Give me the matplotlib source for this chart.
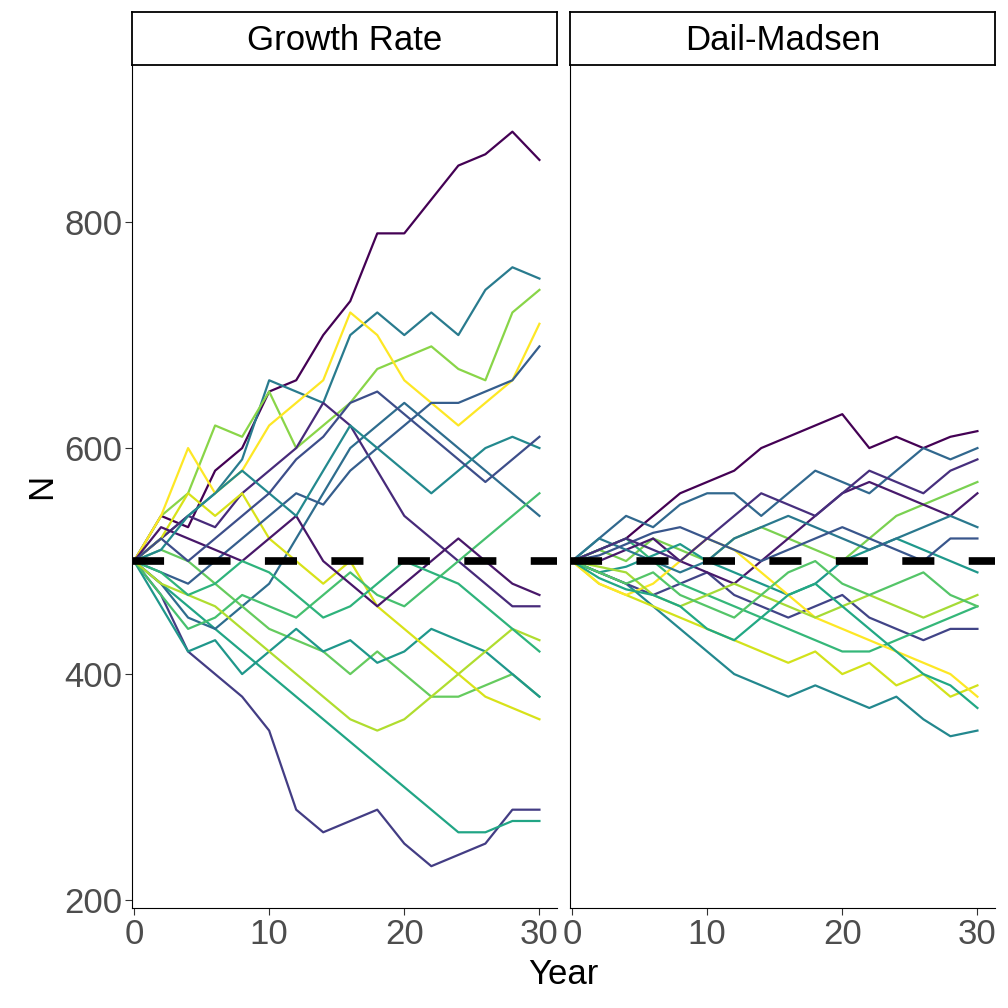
import numpy as np
import matplotlib
matplotlib.use("Agg")
import matplotlib.pyplot as plt

plt.rcParams['font.family'] = ['Liberation Sans', 'DejaVu Sans']

years = list(range(0, 31, 2))

growth_rate = [
    [500,540,530,580,600,650,660,700,730,790,790,820,850,860,880,855],
    [500,520,540,560,590,660,650,640,700,720,700,720,700,740,760,750],
    [500,540,560,620,610,650,600,620,640,670,680,690,670,660,720,740],
    [500,470,420,400,380,350,280,260,270,280,250,230,240,250,280,280],
    [500,480,460,440,420,400,380,360,340,320,300,280,260,260,270,270],
    [500,540,600,560,580,620,640,660,720,700,660,640,620,640,660,710],
    [500,480,450,440,460,480,520,560,600,620,640,620,600,580,560,540],
    [500,510,500,480,460,440,430,420,400,420,400,380,380,390,400,380],
    [500,520,540,530,560,580,600,640,620,580,540,520,500,480,460,460],
    [500,460,420,430,400,420,440,420,430,410,420,440,430,420,400,380],
    [500,520,560,540,560,520,500,480,500,460,440,420,400,380,370,360],
    [500,490,480,500,520,540,560,550,580,600,620,640,640,650,660,690],
    [500,470,440,450,470,460,450,470,490,470,460,480,500,520,540,560],
    [500,530,520,510,500,520,540,500,480,460,480,500,520,500,480,470],
    [500,510,540,560,580,560,540,580,620,600,580,560,580,600,610,600],
    [500,480,470,460,440,420,400,380,360,350,360,380,400,420,440,430],
    [500,520,500,520,540,560,590,610,640,650,630,610,590,570,590,610],
    [500,490,470,480,500,490,470,450,460,480,500,490,480,460,440,420],
]

dail_madsen = [
    [500,510,520,540,560,570,580,600,610,620,630,600,610,600,610,615],
    [500,490,480,460,440,420,400,390,380,390,380,370,380,360,345,350],
    [500,480,470,460,450,440,430,420,410,420,400,410,390,400,380,390],
    [500,520,540,530,550,560,560,540,560,580,570,560,580,600,590,600],
    [500,510,500,520,510,500,520,530,520,510,500,520,540,550,560,570],
    [500,490,480,470,480,490,470,460,450,460,470,450,440,430,440,440],
    [500,510,520,500,480,470,460,450,440,430,420,420,430,440,450,460],
    [500,500,510,520,500,490,480,500,520,540,560,570,560,550,540,560],
    [500,490,495,505,515,500,490,480,470,480,500,510,520,510,500,490],
    [500,480,470,480,500,520,510,490,470,450,440,430,420,410,400,380],
    [500,520,510,500,490,500,520,530,540,530,520,510,520,530,540,530],
    [500,495,490,470,460,470,480,470,460,450,460,470,460,450,460,470],
    [500,505,515,525,530,520,510,500,510,520,530,520,510,500,520,520],
    [500,490,480,490,470,460,450,470,490,500,480,470,480,490,470,460],
    [500,510,520,510,500,520,540,560,550,540,560,580,570,560,580,590],
    [500,485,475,470,460,440,430,450,470,480,460,440,420,400,390,370],
]

panels = [("Growth Rate", growth_rate), ("Dail-Madsen", dail_madsen)]
true_n = 500

fig = plt.figure(figsize=(10.08, 10.08), dpi=100)
W, H = 1008, 1008
boxes = [(132, 557), (570, 995)]
top, bottom = 65, 908

for i, ((title, series), (x0, x1)) in enumerate(zip(panels, boxes)):
    ax = fig.add_axes([x0 / W, 1 - bottom / H, (x1 - x0) / W, (bottom - top) / H])
    colors = plt.cm.viridis(np.linspace(0, 1, len(series)))
    for k, s in enumerate(series):
        ax.plot(years, s, color=colors[(k * 7) % len(series)], lw=1.6)
    ax.axhline(true_n, color="black", lw=5.5, ls=(0, (4.2, 4.5)))
    ax.set_xlim(-0.15, 31.3)
    ax.set_ylim(193, 939)
    ax.set_xticks([0, 10, 20, 30])
    ax.set_yticks([200, 400, 600, 800])
    for sp in ["top", "right"]:
        ax.spines[sp].set_visible(False)
    ax.tick_params(labelsize=25, colors="#333333", labelcolor="#4d4d4d", length=5, pad=2)
    if i == 0:
        ax.set_ylabel("N", fontsize=25, labelpad=4)
    else:
        ax.tick_params(axis="y", left=False, labelleft=False)
    sax = fig.add_axes([x0 / W, 1 - top / H, (x1 - x0) / W, 53 / H])
    sax.set_xticks([]); sax.set_yticks([])
    for sp in sax.spines.values():
        sp.set_linewidth(1.3)
    sax.text(0.5, 0.47, title, ha="center", va="center", fontsize=25, transform=sax.transAxes)

fig.text(563 / W, 1 - 975 / H, "Year", ha="center", va="center", fontsize=25)
fig.savefig("out.png", dpi=100)
